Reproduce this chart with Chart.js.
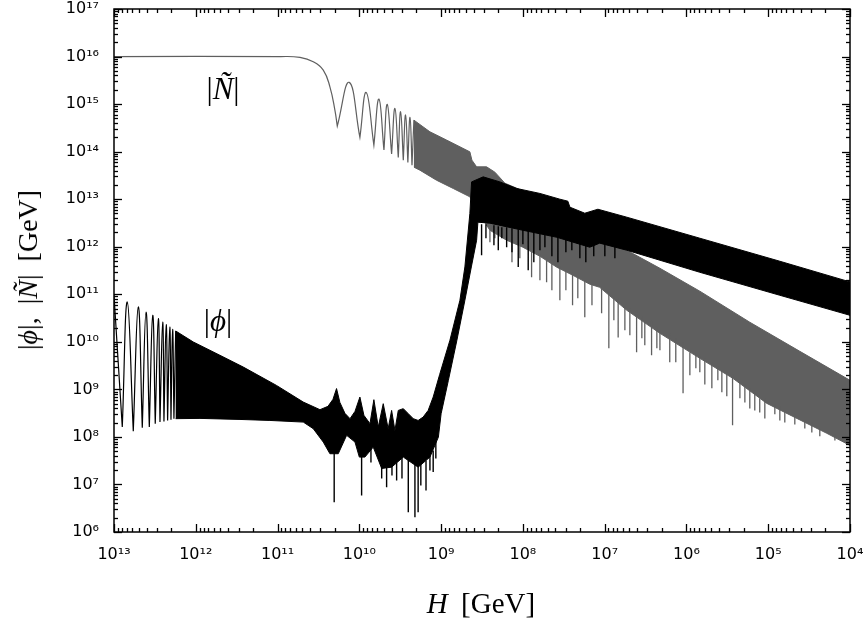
<!DOCTYPE html>
<html><head><meta charset="utf-8">
<script src="https://cdn.jsdelivr.net/npm/chart.js@4.4.1/dist/chart.umd.min.js"></script>
<style>
html,body{margin:0;padding:0;background:#fff;}
#wrap{position:relative;width:868px;height:626px;overflow:hidden;background:#fff;}
canvas{position:absolute;left:0;top:0;}
.t{position:absolute;font-family:'Liberation Serif','DejaVu Serif',serif;color:#000;white-space:nowrap;transform:translate(-50%,-50%);line-height:1;}
</style></head>
<body><div id="wrap"><canvas id="c" width="868" height="626"></canvas>
<div class="t" style="left:223px;top:88px;font-size:31px">|<i>Ñ</i>|</div>
<div class="t" style="left:218px;top:320px;font-size:31px">|<i>ϕ</i>|</div>
<div class="t" style="left:481px;top:603px;font-size:29px;word-spacing:6px"><i>H</i> [GeV]</div>
<div class="t" style="left:28px;top:270px;font-size:28px;word-spacing:6px;transform:translate(-50%,-50%) rotate(-90deg)">|<i>ϕ</i>|, |<i>Ñ</i>| [GeV]</div>
</div>
<script>
// ---- axis ticks ----
const xTickValues = [1e13, 1e12, 1e11, 1e10, 1e9, 1e8, 1e7, 1e6, 1e5, 1e4];
const yTickValues = [1e6, 1e7, 1e8, 1e9, 1e10, 1e11, 1e12, 1e13, 1e14, 1e15, 1e16, 1e17];

// ---- |N~| : plateau and first oscillations (peaks and dips) ----
const nTildeH = [1e13, 9.35e10, 5.32e10, 3.66e10, 2.76e10, 2.29e10, 1.99e10, 1.86e10, 1.33e10, 9.84e9, 8.24e9, 6.64e9, 5.76e9, 5.0e9, 4.56e9, 4.03e9, 3.67e9, 3.34e9, 3.13e9, 2.90e9, 2.72e9, 2.55e9, 2.40e9, 2.27e9, 2.15e9];
const nTildeV = [1e16, 1e16, 9.6e15, 7.8e15, 5.2e15, 2.31e15, 7.5e14, 3.44e14, 2.86e15, 1.99e14, 1.76e15, 1.37e14, 1.27e15, 1.08e14, 9.86e14, 8.9e13, 8.1e14, 7.5e13, 6.9e14, 6.6e13, 5.9e14, 5.9e13, 5.25e14, 5.2e13, 4.6e14];

// ---- |N~| : dense oscillation band (upper envelope, then lower envelope back) ----
const nBandUpperH = [2.15e9, 1.37e9, 8.57e8, 4.45e8, 4.20e8, 3.68e8, 2.78e8, 2.20e8, 1.66e8, 6.19e7, 2.66e7, 1.15e7, 5.36e6, 2.11e6, 6.86e5, 1.68e5, 4.11e4, 1e4];
const nBandUpperV = [4.6e14, 2.61e14, 1.75e14, 9.9e13, 6.62e13, 4.79e13, 4.79e13, 3.70e13, 2.17e13, 1.05e13, 5.86e12, 1.66e12, 8.44e11, 3.52e11, 1.16e11, 2.58e10, 6.31e9, 1.55e9];
const nBandLowerH = [1e4, 1.92e4, 5.0e4, 1.04e5, 2.71e5, 6.86e5, 2.11e6, 5.36e6, 1.15e7, 1.52e7, 2.45e7, 3.84e7, 6.19e7, 1.0e8, 1.58e8, 2.53e8, 3.36e8, 4.20e8, 4.45e8, 7.11e8, 1.14e9, 1.82e9, 2.15e9];
const nBandLowerV = [6.62e7, 1.19e8, 2.70e8, 5.07e8, 1.71e9, 4.50e9, 1.51e10, 4.60e10, 1.40e11, 1.63e11, 2.51e11, 3.70e11, 6.31e11, 9.76e11, 1.37e12, 2.22e12, 4.60e12, 9.5e12, 1.12e13, 1.68e13, 2.51e13, 4.08e13, 4.72e13];

// ---- |N~| : downward spikes (H, from, to) ----
const nSpikeH =   [2.53e8, 7.83e7, 6.19e7, 5.13e7, 3.53e7, 2.47e7, 1.75e7, 1.09e7, 8.89e6, 6.84e6, 5.66e6, 4.07e6, 3.23e6, 2.67e6, 2.11e6, 1.60e6, 1.10e6, 9.08e5, 6.86e5, 4.89e5, 3.69e5, 2.73e5, 1.93e5, 1.46e5, 1.27e5, 8.3e4, 6.27e4, 3.57e4, 2.34e4,
                   2.20e8, 1.36e8, 1.09e8, 4.42e7, 2.98e7, 2.13e7, 1.43e7, 7.72e6, 4.92e6, 3.51e6, 2.30e6, 1.35e6, 7.67e5, 5.96e5, 4.13e5, 3.21e5, 2.22e5, 1.68e5, 1.10e5, 7.21e4, 4.73e4, 2.93e4, 1.53e4];
const nSpikeTop = [2.45e12, 8.44e11, 6.95e11, 5.73e11, 4.08e11, 2.90e11, 1.97e11, 1.34e11, 1.10e11, 8.24e10, 5.58e10, 4.60e10, 2.84e10, 2.84e10, 1.75e10, 1.51e10, 9.75e9, 6.01e9, 5.2e9, 3.70e9, 2.51e9, 2.07e9, 1.27e9, 9.53e8, 6.47e8, 4.83e8, 3.61e8, 2.22e8, 1.49e8,
                   2.22e12, 1.31e12, 1.08e12, 4.72e11, 3.2e11, 2.39e11, 1.63e11, 8.65e10, 5.07e10, 3.44e10, 2.12e10, 1.19e10, 6.01e9, 4.50e9, 3.05e9, 2.28e9, 1.47e9, 1.05e9, 6.47e8, 4.39e8, 3.13e8, 2.02e8, 1.13e8];
const nSpikeBot = [1.24e12, 2.28e11, 1.97e11, 1.79e11, 7.48e10, 5.86e10, 3.28e10, 3.98e10, 7.3e9, 1.24e10, 1.75e10, 6.01e9, 8.44e9, 5.2e9, 6.62e9, 3.70e9, 8.24e8, 1.97e9, 2.28e9, 1.05e9, 8.65e8, 1.75e8, 5.32e8, 3.61e8, 3.28e8, 2.98e8, 2.02e8, 1.51e8, 1.03e8,
                   1.51e12, 4.72e11, 5.73e11, 1.21e11, 1.21e11, 8.24e10, 5.86e10, 2.84e10, 1.37e10, 1.19e10, 7.3e9, 3.70e9, 2.77e9, 1.27e9, 1.55e9, 7.13e8, 6.47e8, 3.98e8, 2.45e8, 2.22e8, 1.83e8, 1.24e8, 8.44e7];

// ---- |phi| : first oscillations (peaks and dips) ----
const phiH = [1e13, 7.92e12, 6.88e12, 5.81e12, 5.05e12, 4.51e12, 4.06e12, 3.70e12, 3.36e12, 3.13e12, 2.87e12, 2.74e12, 2.54e12, 2.45e12, 2.30e12, 2.21e12, 2.08e12, 2.01e12, 1.92e12, 1.85e12, 1.76e12];
const phiV = [9.5e10, 1.61e8, 6.89e10, 1.32e8, 5.41e10, 1.56e8, 4.24e10, 1.61e8, 3.61e10, 1.90e8, 3.08e10, 2.05e8, 2.61e10, 2.12e8, 2.30e10, 2.22e8, 2.05e10, 2.30e8, 1.83e10, 2.42e8, 1.69e10];

// ---- |phi| : dense band (upper envelope, then lower envelope back) ----
const phiBandUpperH = [1.76e12, 1.07e12, 5.06e11, 2.62e11, 1.03e11, 4.85e10, 3.03e10, 2.42e10, 2.10e10, 1.90e10, 1.73e10, 1.50e10, 1.30e10, 1.13e10, 9.84e9, 8.79e9, 7.41e9, 6.64e9, 5.87e9, 5.10e9, 4.44e9, 4.03e9, 3.67e9, 3.34e9, 2.90e9, 2.52e9, 2.19e9, 1.91e9, 1.66e9, 1.44e9, 1.25e9, 1.04e9, 7.80e8, 5.89e8, 5.12e8, 4.45e8, 4.24e8, 3.06e8, 1.91e8, 1.19e8, 6.19e7, 3.53e7, 2.82e7, 2.66e7, 1.75e7, 1.21e7, 5.36e6, 6.86e5, 7.21e4, 1e4];
const phiBandUpperV = [1.69e10, 9.9e9, 5.2e9, 2.94e9, 1.21e9, 5.41e8, 3.74e8, 4.39e8, 6.16e8, 1.04e9, 5.32e8, 3.13e8, 2.42e8, 3.44e8, 6.89e8, 2.84e8, 1.90e8, 6.07e8, 1.61e8, 5.0e8, 1.49e8, 3.61e8, 1.37e8, 3.61e8, 3.93e8, 3.08e8, 2.42e8, 2.22e8, 2.61e8, 3.61e8, 6.89e8, 2.07e9, 1.08e10, 7.48e10, 3.76e11, 5.0e12, 2.31e13, 2.95e13, 2.31e13, 1.68e13, 1.32e13, 1.0e13, 9.08e12, 6.79e12, 5.07e12, 6.15e12, 4.18e12, 1.51e12, 4.95e11, 1.82e11];
const phiBandLowerH = [1e4, 7.21e4, 6.86e5, 5.36e6, 1.15e7, 1.52e7, 3.84e7, 1.0e8, 2.53e8, 3.55e8, 3.68e8, 4.27e8, 5.12e8, 6.41e8, 8.15e8, 1.0e9, 1.08e9, 1.37e9, 1.91e9, 2.90e9, 4.03e9, 5.33e9, 6.76e9, 8.55e9, 1.0e10, 1.13e10, 1.43e10, 1.81e10, 2.29e10, 2.76e10, 3.66e10, 4.85e10, 1.24e11, 2.88e11, 8.89e11, 1.76e12];
const phiBandLowerV = [3.61e10, 9.53e10, 2.90e11, 8.44e11, 1.19e12, 9.76e11, 1.58e12, 2.22e12, 3.13e12, 3.28e12, 1.37e12, 3.76e11, 7.48e10, 1.08e10, 1.55e9, 3.08e8, 9.9e7, 3.76e7, 2.31e7, 3.76e7, 2.31e7, 2.17e7, 6.1e7, 3.76e7, 3.76e7, 7.78e7, 1.08e8, 4.43e7, 4.43e7, 7.78e7, 1.49e8, 2.05e8, 2.22e8, 2.33e8, 2.45e8, 2.42e8];

// ---- |phi| : downward spikes (H, from, to) ----
const phiSpikeH =   [2.03e10, 9.38e9, 5.33e9, 4.64e9, 3.50e9, 2.52e9, 2.09e9, 1.91e9, 1.53e9, 1.25e9, 7.21e9, 3.99e9, 3.01e9, 1.77e9, 1.37e9, 1.16e9,
                     4.08e8, 3.20e8, 2.0e8, 1.58e8, 1.14e8, 8.61e7, 6.19e7, 4.42e7, 2.98e7, 2.01e7, 1.36e7,
                     3.76e8, 2.83e8, 2.26e8, 1.81e8, 1.36e8, 1.0e8, 7.35e7, 5.38e7, 3.73e7, 2.52e7, 1.70e7, 9.95e6, 7.5e6];
const phiSpikeTop = [5.2e7, 4.72e7, 2.9e7, 2.9e7, 2.9e7, 4.08e7, 4.08e7, 3.2e7, 3.2e7, 5.2e7, 6.62e7, 2.9e7, 4.08e7, 2.9e7, 4.08e7, 8.44e7,
                     3.28e12, 2.98e12, 2.70e12, 2.58e12, 2.33e12, 2.22e12, 2.02e12, 1.83e12, 1.66e12, 1.37e12, 1.37e12,
                     2.98e12, 2.98e12, 2.84e12, 2.58e12, 2.45e12, 2.33e12, 2.12e12, 1.92e12, 1.66e12, 1.44e12, 1.19e12, 1.19e12, 1.08e12];
const phiSpikeBot = [4.24e6, 5.86e6, 1.34e7, 8.77e6, 1.21e7, 2.61e6, 2.05e6, 2.61e6, 7.48e6, 1.82e7, 2.9e7, 1.55e7, 1.34e7, 9.53e6, 1.97e7, 3.52e7,
                     1.37e12, 6.62e11, 8.44e11, 9.76e11, 3.76e11, 3.2e11, 8.44e11, 6.31e11, 7.66e11, 5.73e11, 6.31e11,
                     1.66e12, 1.51e12, 1.08e12, 1.51e12, 7.66e11, 1.13e12, 4.72e11, 9.76e11, 4.72e11, 8.44e11, 4.72e11, 6.31e11, 5.73e11];

// ---- styling ----
const GRAY = '#5f5f5f';
const BLACK = '#000000';

// ---- builders ----
function pts(H, V) { return H.map((h, i) => ({x: h, y: V[i]})); }
function arcPts(H, V) {
  const out = [];
  for (let i = 0; i < H.length; i++) {
    out.push({x: H[i], y: V[i]});
    if (i > 0 && i < H.length - 1 && V[i] < V[i - 1] && V[i] < V[i + 1]) out.push({x: H[i], y: V[i]});
  }
  return out;
}
function spikePts(H, a, b) {
  const out = [];
  H.forEach((h, i) => { out.push({x: h, y: a[i]}, {x: h, y: b[i]}, {x: h, y: null}); });
  return out;
}
const base = {showLine: true, pointRadius: 0, pointHoverRadius: 0, fill: false};

const datasets = [
  Object.assign({}, base, {label: '|phi| spikes', data: spikePts(phiSpikeH, phiSpikeTop, phiSpikeBot), borderColor: BLACK, borderWidth: 1.4, tension: 0}),
  Object.assign({}, base, {label: '|phi| band', data: pts(phiBandUpperH.concat(phiBandLowerH), phiBandUpperV.concat(phiBandLowerV)), borderColor: BLACK, backgroundColor: BLACK, borderWidth: 1, fill: 'shape', tension: 0}),
  Object.assign({}, base, {label: '|phi|', data: arcPts(phiH, phiV), borderColor: BLACK, borderWidth: 1.2, tension: 0.45}),
  Object.assign({}, base, {label: '|N| spikes', data: spikePts(nSpikeH, nSpikeTop, nSpikeBot), borderColor: GRAY, borderWidth: 1.3, tension: 0}),
  Object.assign({}, base, {label: '|N| band', data: pts(nBandUpperH.concat(nBandLowerH), nBandUpperV.concat(nBandLowerV)), borderColor: GRAY, backgroundColor: GRAY, borderWidth: 1, fill: 'shape', tension: 0}),
  Object.assign({}, base, {label: '|N|', data: arcPts(nTildeH, nTildeV), borderColor: GRAY, borderWidth: 1.2, tension: 0.45})
];

const SUP = '⁰¹²³⁴⁵⁶⁷⁸⁹';
function pow10Label(v) {
  const e = Math.round(Math.log10(v));
  return '10' + String(e).split('').map(d => SUP[+d]).join('');
}
const tickFont = {family: "'DejaVu Sans', 'Liberation Sans', sans-serif", size: 16};

const frameTicks = {
  id: 'frameTicks',
  afterDatasetsDraw(chart) {
    const {ctx, chartArea: a, scales: {x, y}} = chart;
    ctx.save();
    ctx.strokeStyle = '#000';
    ctx.lineWidth = 1.3;
    const seg = (x1, y1, x2, y2) => { ctx.beginPath(); ctx.moveTo(x1, y1); ctx.lineTo(x2, y2); ctx.stroke(); };
    for (let e = 4; e <= 13; e++) {
      for (let m = 1; m <= 9; m++) {
        const v = m * Math.pow(10, e);
        if (v > 1e13 * 1.0001) break;
        const p = Math.round(x.getPixelForValue(v)) + 0.5;
        const L = m === 1 ? 8 : 4;
        seg(p, a.bottom, p, a.bottom - L);
        seg(p, a.top, p, a.top + L);
      }
    }
    for (let e = 6; e <= 17; e++) {
      for (let m = 1; m <= 9; m++) {
        const v = m * Math.pow(10, e);
        if (v > 1e17 * 1.0001) break;
        const p = Math.round(y.getPixelForValue(v)) + 0.5;
        const L = m === 1 ? 8 : 4;
        seg(a.left, p, a.left + L, p);
        seg(a.right, p, a.right - L, p);
      }
    }
    ctx.lineWidth = 1.5;
    ctx.strokeRect(a.left, a.top, a.right - a.left, a.bottom - a.top);
    ctx.restore();
  }
};

new Chart(document.getElementById('c'), {
  type: 'scatter',
  data: {datasets},
  plugins: [frameTicks],
  options: {
    responsive: false,
    animation: false,
    events: [],
    layout: {padding: {left: 0, right: 18, top: 9, bottom: 0}},
    plugins: {legend: {display: false}, tooltip: {enabled: false}},
    scales: {
      x: {
        type: 'logarithmic', reverse: true, min: 1e4, max: 1e13,
        grid: {display: false}, border: {display: false},
        ticks: {font: tickFont, color: '#000', padding: 5, autoSkip: false, maxRotation: 0, callback: v => pow10Label(v)},
        afterBuildTicks: s => { s.ticks = xTickValues.map(v => ({value: v})); },
        afterFit: s => { s.height = 94; s.paddingLeft = 0; s.paddingRight = 0; }
      },
      y: {
        type: 'logarithmic', min: 1e6, max: 1e17,
        grid: {display: false}, border: {display: false},
        ticks: {font: tickFont, color: '#000', padding: 7, autoSkip: false, callback: v => pow10Label(v)},
        afterBuildTicks: s => { s.ticks = yTickValues.map(v => ({value: v})); },
        afterFit: s => { s.width = 114; s.paddingTop = 0; s.paddingBottom = 0; }
      }
    }
  }
});
</script>
</body></html>
